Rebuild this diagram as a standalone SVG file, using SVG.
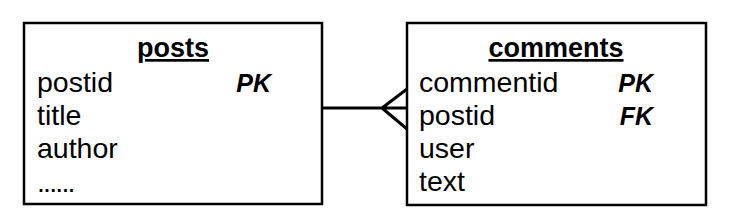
<svg xmlns="http://www.w3.org/2000/svg" width="730" height="224" viewBox="0 0 730 224">
<style>
.box{fill:#fff;stroke:#000;stroke-width:2.5}
.t{font-family:"Liberation Sans",Arial,sans-serif;font-size:28.5px;fill:#000}
.h{font-weight:bold;text-decoration:underline;text-anchor:middle;font-size:27px}
.k{font-weight:bold;font-style:italic;text-anchor:end;font-size:25px}
.c{fill:none;stroke:#000;stroke-width:3}
</style>
<rect width="730" height="224" fill="#fff"/>
<g id="posts">
<rect class="box" x="24" y="23" width="298" height="181"/>
<text class="t h" x="173" y="57">posts</text>
<text class="t" x="37" y="92">postid</text>
<text class="t k" x="271" y="92">PK</text>
<text class="t" x="37" y="125">title</text>
<text class="t" x="37" y="158">author</text>
<text class="t" x="37" y="192" letter-spacing="-1.8">......</text>
</g>
<g id="comments">
<rect class="box" x="407" y="23" width="299" height="182"/>
<text class="t h" x="556" y="57">comments</text>
<text class="t" x="419" y="92">commentid</text>
<text class="t k" x="653" y="92">PK</text>
<text class="t" x="419" y="125">postid</text>
<text class="t k" x="653" y="125">FK</text>
<text class="t" x="419" y="158">user</text>
<text class="t" x="419" y="191">text</text>
</g>
<g id="connectors">
<path class="c" d="M322 108H407M382 108L407 89M382 108L407 129"/>
</g>
</svg>
